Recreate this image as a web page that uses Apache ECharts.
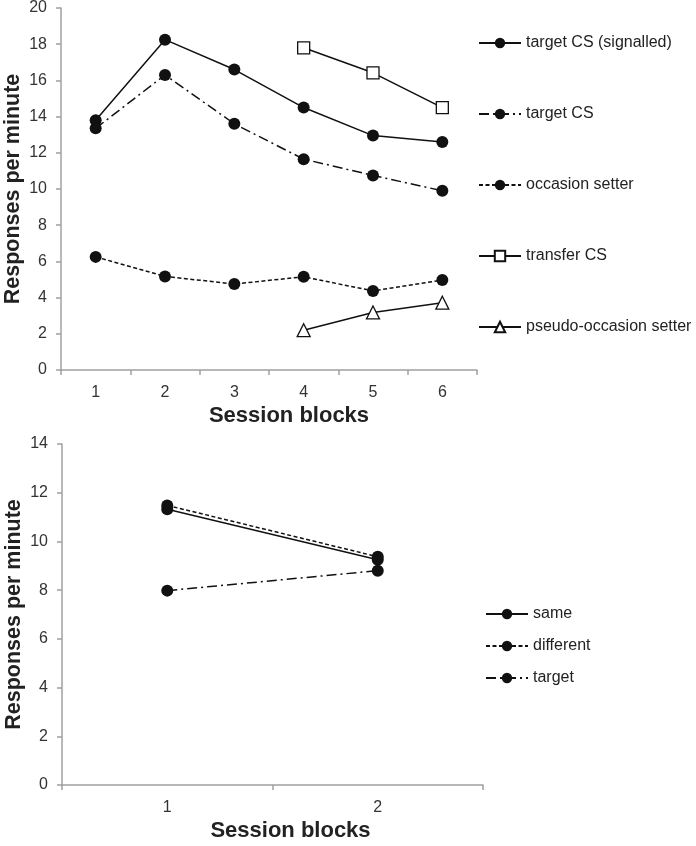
<!DOCTYPE html>
<html><head><meta charset="utf-8">
<script src="https://cdn.jsdelivr.net/npm/echarts@6/dist/echarts.min.js"></script>
<style>html,body{margin:0;padding:0;background:#fff}#c{width:696px;height:846px}</style>
</head><body><div id="c"></div>
<script>
// Top panel
var topCategories = ['1', '2', '3', '4', '5', '6'];
var targetSignalled = [13.8, 18.25, 16.6, 14.5, 12.95, 12.6];
var targetCS = [13.35, 16.3, 13.6, 11.65, 10.75, 9.9];
var occasionSetter = [6.25, 5.17, 4.75, 5.15, 4.37, 4.97];
var transferCS = [null, null, null, 17.8, 16.42, 14.5];
var pseudoOccasion = [null, null, null, 2.2, 3.18, 3.72];
var topYTicks = [0, 2, 4, 6, 8, 10, 12, 14, 16, 18, 20];
// Bottom panel
var bottomCategories = ['1', '2'];
var same = [11.32, 9.25];
var different = [11.48, 9.37];
var target = [7.98, 8.8];
var bottomYTicks = [0, 2, 4, 6, 8, 10, 12, 14];

var FONT = 'Liberation Sans, Arial, sans-serif';
var axisGray = '#a0a0a0';
var dashDot = [10, 4, 2, 4];
var dashed = [4, 2.5];

function yAxis(gridIndex, ticks) {
  return {
    type: 'value', gridIndex: gridIndex, min: ticks[0], max: ticks[ticks.length - 1], interval: 2,
    name: 'Responses per minute', nameLocation: 'middle', nameGap: 37, nameRotate: 90,
    nameMoveOverlap: false,
    nameTextStyle: { fontFamily: FONT, fontSize: 21.5, fontWeight: 'bold', color: '#222' },
    axisLine: { show: true, lineStyle: { color: axisGray, width: 1.5 } },
    axisTick: { show: true, length: 5, lineStyle: { color: axisGray, width: 1.5 } },
    axisLabel: { fontFamily: FONT, fontSize: 16, color: '#333', margin: 14 },
    splitLine: { show: false }
  };
}
function xAxis(gridIndex, cats, pad) {
  return {
    type: 'category', gridIndex: gridIndex, data: cats, boundaryGap: true,
    name: 'Session blocks', nameLocation: 'middle', nameGap: 35,
    nameTextStyle: { fontFamily: FONT, fontSize: 22, fontWeight: 'bold', color: '#222', padding: [0, 0, 0, pad] },
    axisLine: { show: true, lineStyle: { color: axisGray, width: 1.5 } },
    axisTick: { show: true, length: 5, lineStyle: { color: axisGray, width: 1.5 } },
    axisLabel: { fontFamily: FONT, fontSize: 16, color: '#333', margin: 15 }
  };
}
function lineSeries(name, data, xi, yi, lineType, symbol, fill) {
  return {
    name: name, type: 'line', xAxisIndex: xi, yAxisIndex: yi, data: data,
    symbol: symbol, symbolSize: symbol === 'triangle' ? 13 : 12,
    connectNulls: false, animation: false,
    lineStyle: { color: '#111', width: 1.5, type: lineType },
    itemStyle: { color: fill, borderColor: '#111', borderWidth: fill === '#fff' ? 1.3 : 0 },
    emphasis: { disabled: true }
  };
}

var chart = echarts.init(document.getElementById('c'), null, { renderer: 'canvas' });
chart.setOption({
  animation: false,
  grid: [
    { left: 61, top: 8, width: 416, height: 362, outerBoundsMode: 'none', containLabel: false },
    { left: 62, top: 444, width: 421, height: 341, outerBoundsMode: 'none', containLabel: false }
  ],
  xAxis: [xAxis(0, topCategories, 40), xAxis(1, bottomCategories, 36)],
  yAxis: [yAxis(0, topYTicks), yAxis(1, bottomYTicks)],
  legend: [
    {
      orient: 'vertical', left: 478, top: 35, padding: 0, itemWidth: 42, itemHeight: 13, itemGap: 55,
      textStyle: { fontFamily: FONT, fontSize: 16, lineHeight: 16, color: '#222' },
      selectedMode: false,
      data: ['target CS (signalled)', 'target CS', 'occasion setter', 'transfer CS', 'pseudo-occasion setter']
    },
    {
      orient: 'vertical', left: 485, top: 606, padding: 0, itemWidth: 42, itemHeight: 13, itemGap: 16,
      textStyle: { fontFamily: FONT, fontSize: 16, lineHeight: 16, color: '#222' },
      selectedMode: false,
      data: ['same', 'different', 'target']
    }
  ],
  series: [
    lineSeries('target CS (signalled)', targetSignalled, 0, 0, 'solid', 'circle', '#111'),
    lineSeries('target CS', targetCS, 0, 0, dashDot, 'circle', '#111'),
    lineSeries('occasion setter', occasionSetter, 0, 0, dashed, 'circle', '#111'),
    lineSeries('transfer CS', transferCS, 0, 0, 'solid', 'rect', '#fff'),
    lineSeries('pseudo-occasion setter', pseudoOccasion, 0, 0, 'solid', 'triangle', '#fff'),
    lineSeries('same', same, 1, 1, 'solid', 'circle', '#111'),
    lineSeries('different', different, 1, 1, dashed, 'circle', '#111'),
    lineSeries('target', target, 1, 1, dashDot, 'circle', '#111')
  ]
});
</script>
</body></html>
